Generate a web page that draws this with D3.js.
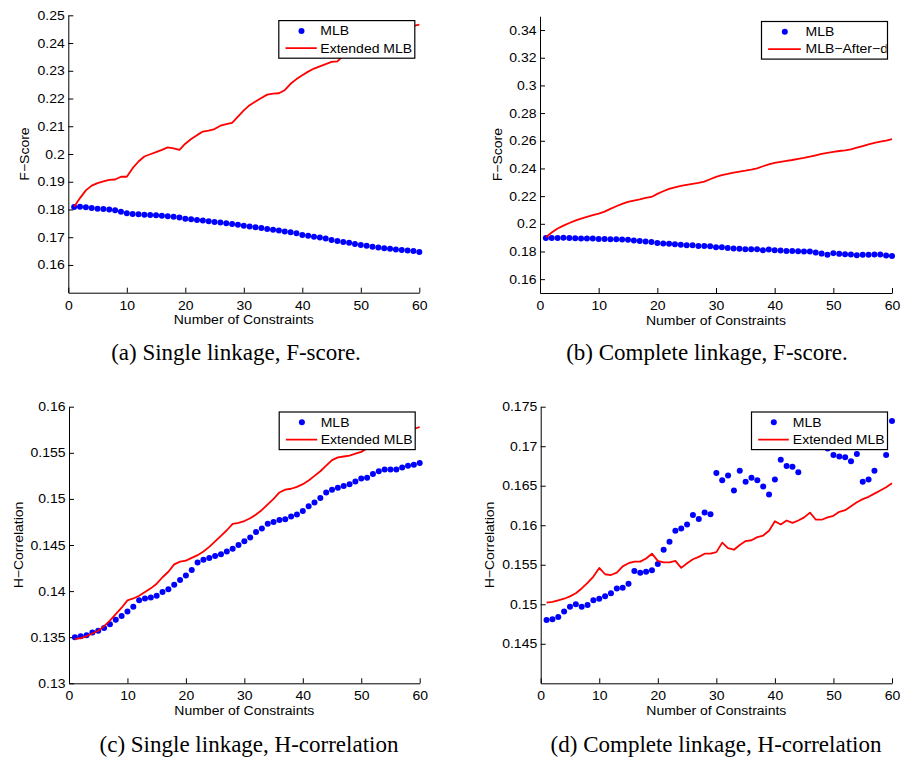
<!DOCTYPE html>
<html>
<head>
<meta charset="utf-8">
<script src="https://cdn.jsdelivr.net/npm/d3@7"></script>
<style>
  body { margin: 0; background: #fff; }
  svg { display: block; }
  .sans { font-family: "Liberation Sans", Arial, sans-serif; font-size: 12.5px; fill: #000; }
  .serif { font-family: "Liberation Serif", "Times New Roman", serif; font-size: 23px; fill: #000; }
</style>
</head>
<body>
<svg id="chart" width="904" height="758"></svg>
<script>
// number of constraints (x) shared by all four panels
const constraints = [1,2,3,4,5,6,7,8,9,10,11,12,13,14,15,16,17,18,19,20,
  21,22,23,24,25,26,27,28,29,30,31,32,33,34,35,36,37,38,39,40,
  41,42,43,44,45,46,47,48,49,50,51,52,53,54,55,56,57,58,59,60];

const xTicks = [0, 10, 20, 30, 40, 50, 60];

// (a) single linkage, F-score
const singleFscoreMLB = [0.1809,0.1810,0.1808,0.1805,0.1803,0.1802,0.1800,0.1797,0.1792,0.1786,
  0.1784,0.1783,0.1781,0.1780,0.1779,0.1777,0.1776,0.1774,0.1771,0.1767,
  0.1765,0.1762,0.1760,0.1758,0.1755,0.1753,0.1750,0.1748,0.1745,0.1741,
  0.1739,0.1736,0.1733,0.1730,0.1727,0.1724,0.1721,0.1718,0.1714,0.1708,
  0.1705,0.1702,0.1699,0.1695,0.1690,0.1686,0.1683,0.1680,0.1676,0.1672,
  0.1669,0.1666,0.1663,0.1660,0.1658,0.1656,0.1654,0.1652,0.1650,0.1647];
const singleFscoreExt = [0.1810,0.1841,0.1869,0.1886,0.1895,0.1901,0.1907,0.1908,0.1918,0.1918,
  0.1949,0.1973,0.1991,0.1999,0.2007,0.2015,0.2024,0.2020,0.2015,0.2037,
  0.2054,0.2068,0.2081,0.2084,0.2090,0.2102,0.2108,0.2112,0.2135,0.2157,
  0.2176,0.2189,0.2202,0.2214,0.2218,0.2219,0.2230,0.2253,0.2270,0.2284,
  0.2297,0.2308,0.2316,0.2324,0.2332,0.2334,0.2355,0.2372,0.2385,0.2398,
  0.2408,0.2418,0.2428,0.2435,0.2442,0.2448,0.2453,0.2458,0.2462,0.2466];
const singleFscoreTicks = [0.16,0.17,0.18,0.19,0.2,0.21,0.22,0.23,0.24,0.25];

// (b) complete linkage, F-score
const completeFscoreMLB = [0.1898,0.1898,0.1898,0.1900,0.1898,0.1896,0.1893,0.1893,0.1893,0.1891,
  0.1891,0.1888,0.1888,0.1886,0.1884,0.1879,0.1876,0.1872,0.1869,0.1862,
  0.1857,0.1855,0.1852,0.1848,0.1845,0.1845,0.1840,0.1840,0.1838,0.1831,
  0.1831,0.1826,0.1821,0.1819,0.1816,0.1816,0.1816,0.1809,0.1814,0.1809,
  0.1807,0.1804,0.1804,0.1802,0.1800,0.1800,0.1792,0.1785,0.1776,0.1788,
  0.1783,0.1780,0.1778,0.1773,0.1776,0.1776,0.1778,0.1778,0.1771,0.1768];
const completeFscoreExt = [0.1903,0.1937,0.1966,0.1987,0.2006,0.2023,0.2038,0.2050,0.2062,0.2074,
  0.2088,0.2108,0.2127,0.2144,0.2158,0.2168,0.2177,0.2187,0.2194,0.2216,
  0.2235,0.2252,0.2264,0.2274,0.2281,0.2288,0.2295,0.2305,0.2322,0.2339,
  0.2351,0.2360,0.2370,0.2377,0.2384,0.2392,0.2401,0.2416,0.2430,0.2440,
  0.2447,0.2454,0.2461,0.2469,0.2476,0.2485,0.2495,0.2505,0.2512,0.2519,
  0.2526,0.2531,0.2538,0.2550,0.2562,0.2574,0.2584,0.2594,0.2601,0.2611];
const completeFscoreTicks = [0.16,0.18,0.2,0.22,0.24,0.26,0.28,0.3,0.32,0.34];

// (c) single linkage, H-correlation
const singleHcorrMLB = [0.1350,0.1351,0.1352,0.1355,0.1357,0.1360,0.1364,0.1369,0.1373,0.1378,
  0.1383,0.1390,0.1392,0.1393,0.1395,0.1399,0.1402,0.1407,0.1412,0.1417,
  0.1423,0.1431,0.1434,0.1436,0.1438,0.1440,0.1443,0.1446,0.1450,0.1454,
  0.1458,0.1464,0.1468,0.1473,0.1475,0.1477,0.1478,0.1481,0.1483,0.1487,
  0.1492,0.1496,0.1501,0.1507,0.1510,0.1512,0.1514,0.1516,0.1519,0.1522,
  0.1523,0.1527,0.1530,0.1532,0.1532,0.1532,0.1534,0.1536,0.1537,0.1539];
const singleHcorrExt = [0.1348,0.1349,0.1351,0.1354,0.1357,0.1362,0.1368,0.1375,0.1382,0.1390,
  0.1392,0.1395,0.1399,0.1403,0.1408,0.1415,0.1421,0.1429,0.1432,0.1433,
  0.1436,0.1439,0.1443,0.1448,0.1454,0.1460,0.1466,0.1473,0.1474,0.1476,
  0.1479,0.1483,0.1488,0.1494,0.1500,0.1507,0.1510,0.1511,0.1513,0.1516,
  0.1520,0.1525,0.1530,0.1536,0.1542,0.1545,0.1546,0.1547,0.1549,0.1551,
  0.1555,0.1558,0.1562,0.1566,0.1569,0.1570,0.1572,0.1574,0.1576,0.1578];
const singleHcorrTicks = [0.13,0.135,0.14,0.145,0.15,0.155,0.16];

// (d) complete linkage, H-correlation
const completeHcorrMLB = [0.1480,0.1481,0.1484,0.1491,0.1497,0.1500,0.1497,0.1499,0.1505,0.1507,
  0.1510,0.1514,0.1520,0.1521,0.1526,0.1542,0.1540,0.1541,0.1543,0.1551,
  0.1569,0.1579,0.1593,0.1596,0.1601,0.1613,0.1608,0.1616,0.1614,0.1666,
  0.1657,0.1663,0.1644,0.1669,0.1655,0.1660,0.1657,0.1649,0.1639,0.1658,
  0.1683,0.1675,0.1674,0.1667,0.1715,0.1725,0.1730,0.1718,0.1697,0.1689,
  0.1687,0.1686,0.1681,0.1690,0.1655,0.1658,0.1669,0.1712,0.1689,0.1732];
const completeHcorrExt = [0.1502,0.1503,0.1505,0.1507,0.1510,0.1514,0.1520,0.1527,0.1535,0.1546,
  0.1538,0.1537,0.1540,0.1548,0.1552,0.1554,0.1554,0.1558,0.1564,0.1555,
  0.1553,0.1553,0.1555,0.1546,0.1552,0.1557,0.1560,0.1564,0.1564,0.1566,
  0.1578,0.1571,0.1569,0.1575,0.1580,0.1581,0.1585,0.1587,0.1593,0.1605,
  0.1601,0.1606,0.1603,0.1606,0.1610,0.1616,0.1607,0.1607,0.1610,0.1612,
  0.1617,0.1619,0.1624,0.1629,0.1633,0.1636,0.1640,0.1644,0.1648,0.1653];
const completeHcorrTicks = [0.145,0.15,0.155,0.16,0.165,0.17,0.175];

const panels = [
  { x0: 68.3, x1: 419.3, yTop: 15.3, yBot: 292.7, yDomain: [0.15, 0.25], yTicks: singleFscoreTicks,
    mlb: singleFscoreMLB, ext: singleFscoreExt, extName: "Extended MLB", ylabel: "F\u2212Score", ylabelX: 25,
    legendW: 136, legLine: [6.7, 38], legDot: 22.7, legText: 41.5,
    caption: "(a) Single linkage, F-score.", capX: 236, capY: 360 },
  { x0: 540, x1: 892, yTop: 16.2, yBot: 293, yDomain: [0.15, 0.35], yTicks: completeFscoreTicks,
    mlb: completeFscoreMLB, ext: completeFscoreExt, extName: "MLB\u2212After\u2212d", ylabel: "F\u2212Score", ylabelX: 497.7,
    legendW: 126, legLine: [6.6, 39.3], legDot: 23.3, legText: 44,
    caption: "(b) Complete linkage, F-score.", capX: 707, capY: 360 },
  { x0: 69, x1: 419.7, yTop: 406.7, yBot: 683.3, yDomain: [0.13, 0.16], yTicks: singleHcorrTicks,
    mlb: singleHcorrMLB, ext: singleHcorrExt, extName: "Extended MLB", ylabel: "H\u2212Correlation", ylabelX: 18.5,
    legendW: 136, legLine: [6.7, 38], legDot: 22.7, legText: 41.5,
    caption: "(c) Single linkage, H-correlation", capX: 249, capY: 752 },
  { x0: 540.7, x1: 892, yTop: 406.7, yBot: 683.3, yDomain: [0.14, 0.175], yTicks: completeHcorrTicks,
    mlb: completeHcorrMLB, ext: completeHcorrExt, extName: "Extended MLB", ylabel: "H\u2212Correlation", ylabelX: 490,
    legendW: 136, legLine: [6.7, 37.3], legDot: 22.3, legText: 41.3,
    caption: "(d) Complete linkage, H-correlation", capX: 716, capY: 752 }
];

const svg = d3.select("#chart");
const stretch = 1.12; // reference glyphs are a little wider than Liberation Sans

panels.forEach((p, i) => {
  const x = d3.scaleLinear().domain([0, 60]).range([p.x0, p.x1]);
  const y = d3.scaleLinear().domain(p.yDomain).range([p.yBot, p.yTop]);
  const g = svg.append("g");

  // axes: MATLAB style, ticks pointing inward, no box
  const xAxis = g.append("g").attr("transform", `translate(0,${p.yBot})`)
    .call(d3.axisBottom(x).tickValues(xTicks).tickSizeInner(-5).tickSizeOuter(0).tickPadding(9));
  const yAxis = g.append("g").attr("transform", `translate(${p.x0},0)`)
    .call(d3.axisLeft(y).tickValues(p.yTicks).tickFormat(d => String(+d.toFixed(3)))
      .tickSizeInner(-5).tickSizeOuter(0).tickPadding(9));
  [xAxis, yAxis].forEach(a => {
    a.attr("font-family", null).attr("font-size", null);
    a.select(".domain").attr("stroke", "#000").attr("stroke-width", 1);
    a.selectAll(".tick line").attr("stroke", "#000");
    a.selectAll("text").attr("class", "sans").attr("fill", "#000");
  });
  xAxis.selectAll("text").attr("dy", "0.71em").attr("y", 8);
  yAxis.selectAll("text").attr("x", -3.5);

  // MLB dots
  g.append("g").selectAll("circle")
    .data(constraints)
    .join("circle")
    .attr("cx", (d) => x(d))
    .attr("cy", (d, j) => y(p.mlb[j]))
    .attr("r", 3)
    .attr("fill", "#0000ff");

  // extended line
  const line = d3.line().x((d) => x(d)).y((d, j) => y(p.ext[j]));
  g.append("path")
    .datum(constraints)
    .attr("d", line)
    .attr("fill", "none")
    .attr("stroke", "#ff0000")
    .attr("stroke-width", 1.8)
    .attr("stroke-linejoin", "round");

  // axis titles
  g.append("text").attr("class", "sans")
    .attr("x", (p.x0 + p.x1) / 2).attr("y", p.yBot + 31.5)
    .attr("text-anchor", "middle")
    .text("Number of Constraints");
  g.append("text").attr("class", "sans")
    .attr("transform", `translate(${p.ylabelX},${(p.yTop + p.yBot) / 2}) rotate(-90)`)
    .attr("dy", "0.35em")
    .attr("text-anchor", "middle")
    .text(p.ylabel);

  // legend (white box hides what lies under it, text clipped by the frame)
  const lx = p.x1 - 4.5 - p.legendW, ly = p.yTop + 5.3, lh = 37.6;
  svg.append("clipPath").attr("id", "leg" + i)
    .append("rect").attr("x", lx).attr("y", ly).attr("width", p.legendW - 1).attr("height", lh);
  const lg = g.append("g");
  lg.append("rect").attr("x", lx).attr("y", ly).attr("width", p.legendW).attr("height", lh)
    .attr("fill", "#fff");
  const inner = lg.append("g").attr("clip-path", `url(#leg${i})`);
  inner.append("circle").attr("cx", lx + p.legDot).attr("cy", ly + 10.3).attr("r", 3).attr("fill", "#0000ff");
  inner.append("line").attr("x1", lx + p.legLine[0]).attr("x2", lx + p.legLine[1])
    .attr("y1", ly + 27.6).attr("y2", ly + 27.6)
    .attr("stroke", "#ff0000").attr("stroke-width", 1.8);
  inner.append("text").attr("class", "sans").attr("x", lx + p.legText).attr("y", ly + 10.3).attr("dy", "0.35em").text("MLB");
  inner.append("text").attr("class", "sans").attr("x", lx + p.legText).attr("y", ly + 27.6).attr("dy", "0.35em").text(p.extName);
  lg.append("rect").attr("x", lx).attr("y", ly).attr("width", p.legendW).attr("height", lh)
    .attr("fill", "none").attr("stroke", "#000").attr("stroke-width", 1.2);

  // sub-figure caption
  svg.append("text").attr("class", "serif")
    .attr("x", p.capX).attr("y", p.capY)
    .attr("text-anchor", "middle")
    .text(p.caption);
});

// widen sans labels slightly to match the reference glyph width
svg.selectAll("text.sans").each(function () {
  const len = this.getComputedTextLength();
  d3.select(this).attr("textLength", len * stretch).attr("lengthAdjust", "spacingAndGlyphs");
});
</script>
</body>
</html>
